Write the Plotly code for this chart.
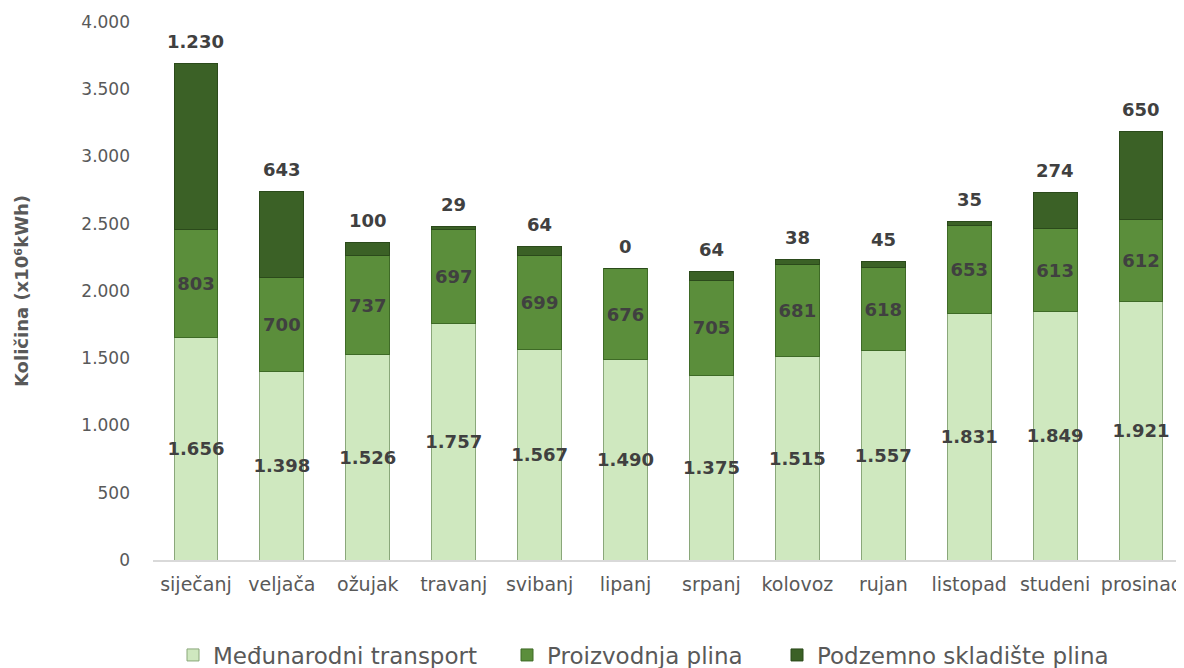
import plotly.graph_objects as go

months = ["siječanj", "veljača", "ožujak", "travanj", "svibanj", "lipanj",
          "srpanj", "kolovoz", "rujan", "listopad", "studeni", "prosinac"]
medjunarodni = [1656, 1398, 1526, 1757, 1567, 1490, 1375, 1515, 1557, 1831, 1849, 1921]
proizvodnja = [803, 700, 737, 697, 699, 676, 705, 681, 618, 653, 613, 612]
podzemno = [1230, 643, 100, 29, 64, 0, 64, 38, 45, 35, 274, 650]

names = ["Međunarodni transport", "Proizvodnja plina", "Podzemno skladište plina"]
colors = ["#cfe8bf", "#5b8e3b", "#3b6126"]
lines = ["#8aa77a", "#3e6a26", "#2b4a1b"]
legend_ids = ["legend", "legend2", "legend3"]

label_font = dict(family="DejaVu Sans", size=18, color="#404040")
legend_font = dict(family="DejaVu Sans", size=23, color="#595959")

W, H = 1176, 660


def fmt(v):
    return f"{v:,}".replace(",", ".")


fig = go.Figure()
series = [medjunarodni, proizvodnja, podzemno]
for i, vals in enumerate(series):
    show_text = i < 2
    fig.add_trace(go.Bar(
        x=months, y=vals, name=names[i], legend=legend_ids[i],
        marker=dict(color=colors[i], line=dict(color=lines[i], width=1)),
        text=[f"<b>{fmt(v)}</b>" for v in vals] if show_text else None,
        texttemplate="%{text}" if show_text else None,
        textposition="inside" if show_text else "none",
        insidetextanchor="middle", constraintext="none", textangle=0,
        textfont=label_font, cliponaxis=False,
    ))

totals = [a + b + c for a, b, c in zip(medjunarodni, proizvodnja, podzemno)]
for m, t, v in zip(months, totals, podzemno):
    fig.add_annotation(x=m, y=t, text=f"<b>{fmt(v)}</b>", showarrow=False,
                       yanchor="middle", yshift=22, font=label_font)

legend_left_px = [165, 499, 769]
legend_cfg = {}
for lid, lx in zip(legend_ids, legend_left_px):
    legend_cfg[lid] = dict(orientation="h", xref="container", yref="container",
                           x=lx / W, xanchor="left", y=(H - 647) / H, yanchor="middle",
                           font=legend_font, bgcolor="rgba(0,0,0,0)")

fig.update_layout(
    barmode="stack", bargap=0.49,
    width=W, height=H,
    separators=",.",
    plot_bgcolor="white", paper_bgcolor="white",
    margin=dict(l=145, r=0, t=14, b=108),
    font=dict(family="DejaVu Sans", color="#595959"),
    showlegend=True,
    uniformtext=dict(mode=False),
    **legend_cfg,
)
fig.update_yaxes(range=[0, 4000], tickvals=[0, 500, 1000, 1500, 2000, 2500, 3000, 3500, 4000],
                 tickformat=",d", showgrid=False, zeroline=False, showline=False,
                 automargin=False, ticklabelstandoff=22,
                 tickfont=dict(size=17, color="#595959"), ticks="", ticklen=0,
                 title=dict(text="<b>Količina (x10⁶kWh)</b>", font=dict(size=18, color="#595959"), standoff=48))
fig.update_xaxes(showline=True, linecolor="#d9d9d9", linewidth=1.5, ticks="",
                 automargin=False, ticklabelstandoff=6,
                 tickfont=dict(size=19, color="#595959"))

fig.write_html("out.html")
